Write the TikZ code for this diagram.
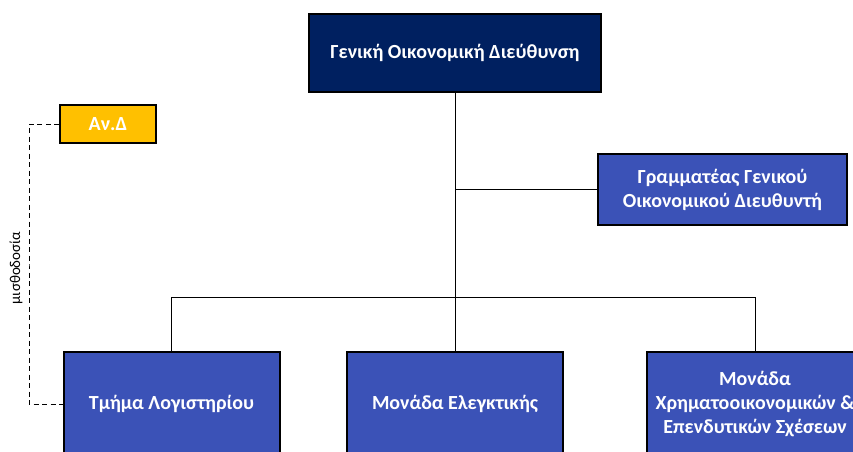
\documentclass[tikz,border=0pt]{standalone}
\usepackage{fontspec}
\setmainfont{Carlito}
\usetikzlibrary{positioning}

\definecolor{navybox}{RGB}{0,32,96}
\definecolor{unitblue}{RGB}{59,82,183}
\definecolor{goldbox}{RGB}{255,192,0}

\tikzset{
  orgbox/.style={draw=black, line width=2pt, text=white, font=\bfseries\fontsize{20}{24}\selectfont,
    align=center, inner sep=2pt},
  headbox/.style={orgbox, fill=navybox, minimum width=292, minimum height=78},
  unitbox/.style={orgbox, fill=unitblue, minimum width=216, minimum height=104},
  link/.style={black, line width=1pt}
}

\begin{document}
\begin{tikzpicture}[x=1pt, y=-1pt]
  \clip (0,0) rectangle (853,451);
  \fill[white] (0,0) rectangle (853,451);

  \node[headbox] (top) at (455,53) {Γενική Οικονομική Διεύθυνση};
  \node[orgbox, fill=goldbox, minimum width=96, minimum height=38] (avd) at (108,124) {Αν.Δ};
  \node[orgbox, fill=unitblue, minimum width=249, minimum height=71] (secretary) at (722.5,189.5)
    {Γραμματέας Γενικού\\Οικονομικού Διευθυντή};

  \node[unitbox] (acct) at (171.5,404) {Τμήμα Λογιστηρίου};
  \node[unitbox] (audit) at (455,404) {Μονάδα Ελεγκτικής};
  \node[unitbox, align=center] (finance) at (755,404)
    {Μονάδα\\Χρηματοοικονομικών \&\\Επενδυτικών Σχέσεων};

  \coordinate (bus) at (0,297);
  \coordinate (pay) at (29,264);

  % connectors
  \draw[link] (top.south) -- (audit.north);
  \draw[link] (secretary.west) -- (top.south |- secretary.west);
  \draw[link] (acct.north) |- (finance.north |- bus) -- (finance.north);

  % payroll link
  \draw[link, dash pattern=on 5pt off 3.5pt] (avd.west) -| (pay) |- (acct.west);
  \node[rotate=90, font=\fontsize{15}{18}\selectfont] (paylabel) at (16,268) {μισθοδοσία};
\end{tikzpicture}
\end{document}
